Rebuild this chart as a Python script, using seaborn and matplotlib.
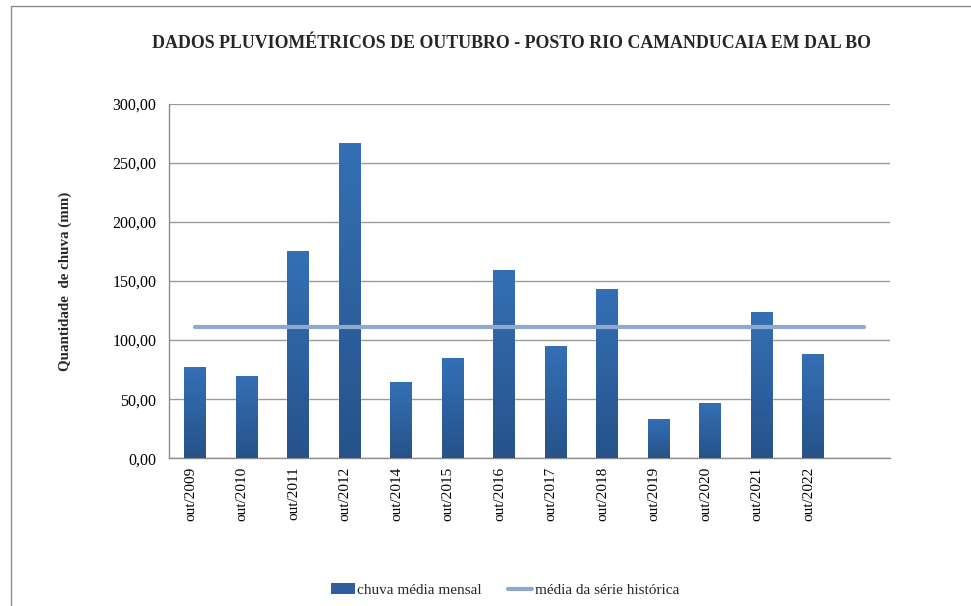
import numpy as np
import pandas as pd
import matplotlib
matplotlib.use("Agg")
import matplotlib.pyplot as plt
import seaborn as sns
from matplotlib.ticker import FuncFormatter
from matplotlib.patches import Patch, Rectangle
from matplotlib.lines import Line2D
from matplotlib.transforms import ScaledTranslation

# dados (mm) - último slot fica vazio, como no original
meses = ["out/2009", "out/2010", "out/2011", "out/2012", "out/2014", "out/2015", "out/2016",
         "out/2017", "out/2018", "out/2019", "out/2020", "out/2021", "out/2022", ""]
chuva_media_mensal = [77.2, 69.4, 175.6, 266.5, 64.8, 84.6, 159.3,
                      95.0, 143.2, 33.2, 46.8, 123.8, 88.2, np.nan]
media_serie_historica = [111.3] * len(meses)

y_ticks = [0, 50, 100, 150, 200, 250, 300]

df = pd.DataFrame({"mes": meses, "chuva": chuva_media_mensal})

sns.set_theme(style="white")
plt.rcParams["font.family"] = ["Liberation Serif", "DejaVu Serif"]

fig = plt.figure(figsize=(9.71, 6.06), dpi=100)
ax = fig.add_axes([0.174, 0.2437, 0.7426, 0.5852])

cor_barra = "#2E5E9E"
cor_linha = "#8EA8D0"

sns.barplot(data=df, x="mes", y="chuva", order=meses, color=cor_barra,
            width=0.41, saturation=1, ax=ax, zorder=3)

# gradiente vertical nas barras (claro em cima, escuro embaixo)
grad = np.linspace(0, 1, 256).reshape(-1, 1)
cmap = matplotlib.colors.LinearSegmentedColormap.from_list("g", ["#3470B5", "#27528A"])
for bar in ax.patches:
    h = bar.get_height()
    if not np.isfinite(h) or h <= 0:
        continue
    x0 = bar.get_x()
    w = bar.get_width()
    im = ax.imshow(grad, cmap=cmap, extent=[x0, x0 + w, 0, h], aspect="auto",
                   origin="upper", zorder=3.5)
    im.set_clip_path(bar)

ax.plot(range(len(meses)), media_serie_historica, color=cor_linha, lw=3,
        solid_capstyle="round", zorder=4)

ax.set_xlim(-0.5, len(meses) - 0.5)
ax.set_ylim(0, 300)
ax.set_yticks(y_ticks)
ax.yaxis.set_major_formatter(FuncFormatter(lambda v, p: f"{v:.2f}".replace(".", ",")))
ax.grid(axis="y", color="#9A9A9A", lw=1, zorder=0)
ax.set_axisbelow(True)

for s in ["top", "right"]:
    ax.spines[s].set_visible(False)
for s in ["left", "bottom"]:
    ax.spines[s].set_color("#8C8C8C")
    ax.spines[s].set_linewidth(1)

ax.tick_params(axis="y", labelsize=11.5, length=0, pad=9, colors="black")
ax.tick_params(axis="x", labelsize=11, length=0, pad=6, colors="black")
plt.setp(ax.get_xticklabels(), rotation=90)
desloc = ScaledTranslation(-4 / 100, 0, fig.dpi_scale_trans)
for lbl in ax.get_xticklabels():
    lbl.set_transform(lbl.get_transform() + desloc)

ax.set_xlabel("")
ax.set_ylabel("Quantidade  de chuva (mm)", fontsize=10.8, fontweight="bold", labelpad=29)

fig.text(0.527, 0.928, "DADOS PLUVIOMÉTRICOS DE OUTUBRO - POSTO RIO CAMANDUCAIA EM DAL BO",
         ha="center", va="center", fontsize=12.9, fontweight="bold")

handles = [Patch(facecolor=cor_barra, edgecolor="none"),
           Line2D([0], [0], color=cor_linha, lw=3, solid_capstyle="round")]
fig.legend(handles, ["chuva média mensal", "média da série histórica"],
           loc="center", bbox_to_anchor=(0.52, 0.026), ncol=2, frameon=False,
           fontsize=11, handlelength=1.6, handletextpad=0.15, columnspacing=1.7)

# moldura da área do gráfico
fig.add_artist(Rectangle((11 / 971, -0.1), 1.2, 1 - 6 / 606 + 0.1, transform=fig.transFigure,
                         fill=False, edgecolor="#8C8C8C", lw=1))

fig.savefig("out.png", dpi=100)
